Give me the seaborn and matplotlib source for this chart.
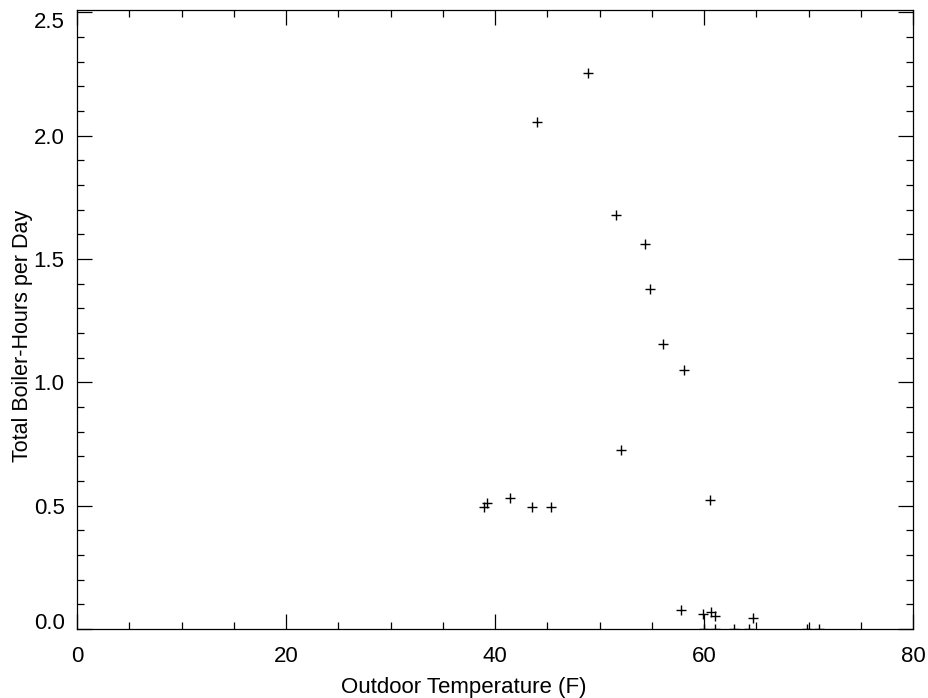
import pandas as pd
import matplotlib.pyplot as plt
from matplotlib.ticker import MultipleLocator
import seaborn as sns

# daily boiler-hours vs outdoor temperature
temperature = [48.9, 44.0, 51.6, 54.3, 54.8, 56.1, 58.1, 52.0, 60.6,
               38.9, 39.2, 41.4, 43.5, 45.3,
               57.8, 59.9, 60.7, 61.0, 64.7,
               60.0, 61.0, 62.9, 64.3, 69.8, 71.0]
boilerHours = [2.255, 2.053, 1.68, 1.559, 1.38, 1.154, 1.049, 0.725, 0.522,
               0.494, 0.51, 0.53, 0.494, 0.494,
               0.077, 0.06, 0.07, 0.053, 0.045,
               0.0, 0.0, 0.0, 0.0, 0.0, 0.0]

xTicks = [0, 20, 40, 60, 80]
yTicks = [0.0, 0.5, 1.0, 1.5, 2.0, 2.5]

sns.set_style("ticks")
plt.rcParams['font.family'] = ['Liberation Sans', 'DejaVu Sans']
plt.rcParams['text.color'] = "black"
plt.rcParams['axes.labelcolor'] = "black"

dataFrame = pd.DataFrame({"X": temperature, "Y": boilerHours})

fig = plt.figure(figsize=(9.29, 6.98), dpi=100)
ax = fig.add_axes([0.083, 0.099, 0.9, 0.887])
sns.scatterplot(data=dataFrame, x="X", y="Y", marker="+", color="black",
                s=60, linewidth=1.0, ax=ax)

ax.set_xlim(0, 80)
ax.set_ylim(0, 2.51)
ax.set_xticks(xTicks)
ax.set_yticks(yTicks)
ax.set_xticklabels([str(t) for t in xTicks])
ax.set_yticklabels(["%.1f" % t for t in yTicks])
ax.xaxis.set_minor_locator(MultipleLocator(5))
ax.yaxis.set_minor_locator(MultipleLocator(0.1))
ax.tick_params(which="both", direction="in", top=True, right=True,
               labelsize=16, color="black", labelcolor="black")
ax.tick_params(axis="x", which="major", pad=12)
ax.tick_params(axis="y", which="major", pad=9)
ax.tick_params(which="major", length=11, width=0.9)
ax.tick_params(which="minor", length=5, width=0.9)
for spine in ax.spines.values():
    spine.set_color("black")
    spine.set_linewidth(0.9)

# first and last y labels sit inside the frame
yLabels = ax.get_yticklabels()
yLabels[0].set_verticalalignment("baseline")
yLabels[-1].set_verticalalignment("top")

ax.set_xlabel("Outdoor Temperature (F)", fontsize=16)
ax.set_ylabel("Total Boiler-Hours per Day", fontsize=15.5)
ax.xaxis.set_label_coords(0.463, -0.077)
ax.yaxis.set_label_coords(-0.053, 0.473)

plt.savefig("out.png", dpi=100)
plt.close("all")
